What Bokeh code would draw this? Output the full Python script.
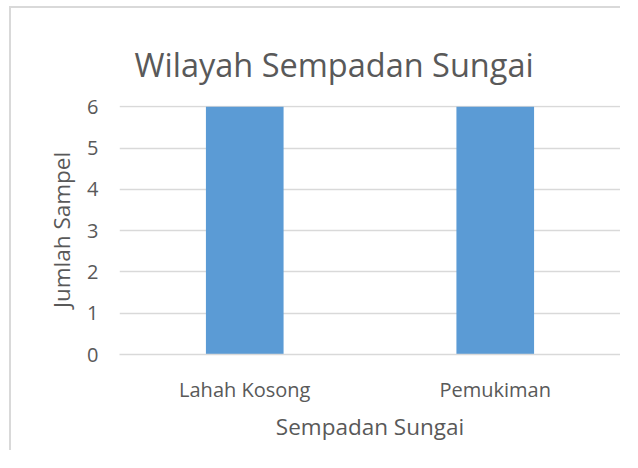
from bokeh.plotting import figure
from bokeh.models import FixedTicker, Range1d, ColumnDataSource, Title
from bokeh.embed import file_html
from bokeh.resources import INLINE

# ---- data ----
categories = ["Lahah Kosong", "Pemukiman"]
values = [6, 6]
y_ticks = [0, 1, 2, 3, 4, 5, 6]
title_text = "Wilayah Sempadan Sungai"
x_title = "Sempadan Sungai"
y_title = "Jumlah Sampel"

TEXT = "#595959"
GRID = "#d9d9d9"
FONT = "Open Sans"

src = ColumnDataSource(dict(cat=categories, val=values))

p = figure(
    x_range=categories,
    y_range=Range1d(0, 6.03),
    width=611,
    height=444,
    output_backend="svg",
    toolbar_location=None,
    min_border_left=108,
    min_border_right=2,
    min_border_top=97,
    min_border_bottom=98,
)
p.styles = {
    "margin-left": "9px",
    "margin-top": "6px",
    "border-left": "2px solid #d9d9d9",
    "border-top": "2px solid #d9d9d9",
}
p.outline_line_color = None
p.background_fill_color = "white"
p.border_fill_color = "white"

p.vbar(x="cat", top="val", width=0.31, source=src,
       fill_color="#5b9bd5", line_color=None)

# grid
p.xgrid.grid_line_color = None
p.ygrid.grid_line_color = GRID
p.ygrid.grid_line_width = 1.5
p.ygrid.ticker = FixedTicker(ticks=y_ticks)

# y axis
yax = p.yaxis[0]
yax.ticker = FixedTicker(ticks=y_ticks)
yax.axis_line_color = None
yax.major_tick_line_color = None
yax.minor_tick_line_color = None
yax.major_tick_out = 0
yax.minor_tick_out = 0
yax.major_label_standoff = 21
yax.major_label_text_font = FONT
yax.major_label_text_font_size = "20px"
yax.major_label_text_color = TEXT
yax.axis_label = y_title
yax.axis_label_text_font = FONT
yax.axis_label_text_font_size = "22.5px"
yax.axis_label_text_font_style = "normal"
yax.axis_label_text_color = TEXT
yax.axis_label_standoff = 7

# x axis
xax = p.xaxis[0]
xax.axis_line_color = GRID
xax.axis_line_width = 1.5
xax.major_tick_line_color = None
xax.minor_tick_line_color = None
xax.major_tick_out = 0
xax.minor_tick_out = 0
xax.major_label_standoff = 21
xax.major_label_text_font = FONT
xax.major_label_text_font_size = "20px"
xax.major_label_text_color = TEXT
xax.axis_label = x_title
xax.axis_label_text_font = FONT
xax.axis_label_text_font_size = "22.5px"
xax.axis_label_text_font_style = "normal"
xax.axis_label_text_color = TEXT
xax.axis_label_standoff = 5

# chart title
t = Title(text=title_text, align="left", offset=15, standoff=38,
          text_font=FONT, text_font_size="32.5px", text_font_style="normal",
          text_color=TEXT)
p.add_layout(t, "above")

html = file_html(p, INLINE)
open("out.html", "w").write(html)
